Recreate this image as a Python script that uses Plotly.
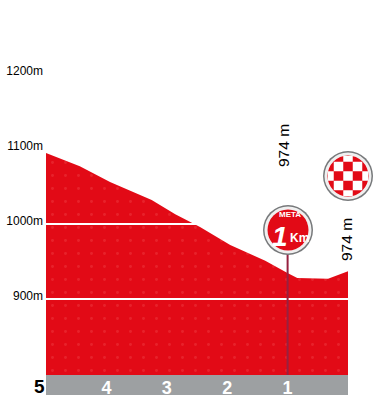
import plotly.graph_objects as go

km = [5.0, 4.44, 3.94, 3.44, 3.25, 2.86, 2.45, 1.95, 1.37, 1.01, 0.84, 0.33, 0.0]
elevation = [1094.7, 1077, 1056, 1039, 1032, 1013, 996, 972, 951, 935, 928, 927, 937]
grid_levels = [900, 1000]
y_ticks = [900, 1000, 1100, 1200, 1300]
y_labels = ["900m", "1000m", "1100m", "1200m", "1300m"]
km_ticks = [4, 3, 2, 1]
km_labels = ["<b>4</b>", "<b>3</b>", "<b>2</b>", "<b>1</b>"]
finish_label = "974 m"

W, H = 378, 400
X0, X1 = 46, 348
Y_BOTTOM = 375
RED = "#e20a16"
xr = [5, 5 - (X1 - X0) / 60.4]
yr = [900 - (Y_BOTTOM - 299) / 0.75, 900 + 299 / 0.75]

fig = go.Figure()
fig.add_trace(go.Scatter(
    x=km + [0, 5], y=elevation + [yr[0], yr[0]], mode="lines", fill="toself",
    fillcolor=RED, line=dict(width=0), hoverinfo="skip", showlegend=False,
    fillpattern=dict(shape=".", size=13, solidity=0.04, fgcolor="#ee3a40", bgcolor=RED),
))


def fx(v):
    return (v - X0) / (X1 - X0)


def fy(v):
    return (Y_BOTTOM - v) / Y_BOTTOM


shapes = []
for g in grid_levels:
    shapes.append(dict(type="line", xref="x", yref="y", x0=5, x1=0, y0=g, y1=g,
                       line=dict(color="white", width=2), layer="above"))
# gray km band
shapes.append(dict(type="rect", xref="paper", yref="paper", x0=0, x1=1, y0=0, y1=fy(395),
                   fillcolor="#9da0a2", line_width=0, layer="below"))
# one-km marker pole
shapes.append(dict(type="line", xref="x", yref="y", x0=1, x1=1, y0=yr[0], y1=960,
                   line=dict(color="#962140", width=2), layer="above"))


def disc(cx, cy, r, color):
    shapes.append(dict(type="circle", xref="paper", yref="paper", layer="above",
                       x0=fx(cx - r), x1=fx(cx + r), y0=fy(cy + r), y1=fy(cy - r),
                       fillcolor=color, line=dict(width=0)))


for cx, cy in [(288, 230), (348, 176)]:
    disc(cx, cy, 25, "#77797b")
    disc(cx, cy, 23.5, "#f0f0f0")
    disc(cx, cy, 20.5, RED)

cx, cy, s = 348, 176, 9.5
for a, b in [(0, 0), (-1, -1), (1, -1), (-1, 1), (1, 1), (0, -2), (0, 2), (-2, 0), (2, 0)]:
    x0, x1 = a * s - s / 2, a * s + s / 2
    y0, y1 = b * s - s / 2, b * s + s / 2
    x0, x1 = max(x0, -20), min(x1, 20)
    y0, y1 = max(y0, -20), min(y1, 20)
    shapes.append(dict(type="rect", xref="paper", yref="paper", layer="above",
                       x0=fx(cx + x0), x1=fx(cx + x1), y0=fy(cy + y1), y1=fy(cy + y0),
                       fillcolor="white", line_width=0))

FONT = "Liberation Sans"
ann = [
    dict(x=fx(290), y=fy(215), text="<b>META</b>", font=dict(size=8, color="white", family=FONT)),
    dict(x=fx(280), y=fy(236.5), text="<b><i>1</i></b>", font=dict(size=28, color="white", family=FONT)),
    dict(x=fx(299), y=fy(238), text="<b>Km</b>", font=dict(size=12, color="white", family=FONT)),
    dict(x=fx(283), y=fy(146), text=finish_label, textangle=-90, font=dict(size=15.5, color="black", family=FONT)),
    dict(x=fx(346), y=fy(240), text=finish_label, textangle=-90, font=dict(size=15.5, color="black", family=FONT)),
    dict(x=fx(39), y=fy(386), text="<b>5</b>", font=dict(size=19, color="black", family=FONT)),
]
for a in ann:
    a.update(xref="paper", yref="paper", showarrow=False, xanchor="center", yanchor="middle",
             borderpad=0, borderwidth=0)

fig.update_layout(
    width=W, height=H, margin=dict(l=X0, r=W - X1, t=0, b=H - Y_BOTTOM, pad=0),
    paper_bgcolor="white", plot_bgcolor="white", showlegend=False,
    shapes=shapes, annotations=ann,
    xaxis=dict(range=xr, tickmode="array", tickvals=km_ticks, ticktext=km_labels,
               showgrid=False, zeroline=False, showline=False, ticks="",
               tickfont=dict(family=FONT, size=18, color="white"), ticklabelstandoff=0),
    yaxis=dict(range=yr, tickmode="array", tickvals=y_ticks, ticktext=y_labels,
               showgrid=False, zeroline=False, showline=False, ticks="",
               tickfont=dict(family=FONT, size=12, color="black"), ticklabelshift=-3,
               ticklabelstandoff=2),
)
fig.write_html("out.html", post_script="document.body.style.margin='0';",
               config=dict(displayModeBar=False))
